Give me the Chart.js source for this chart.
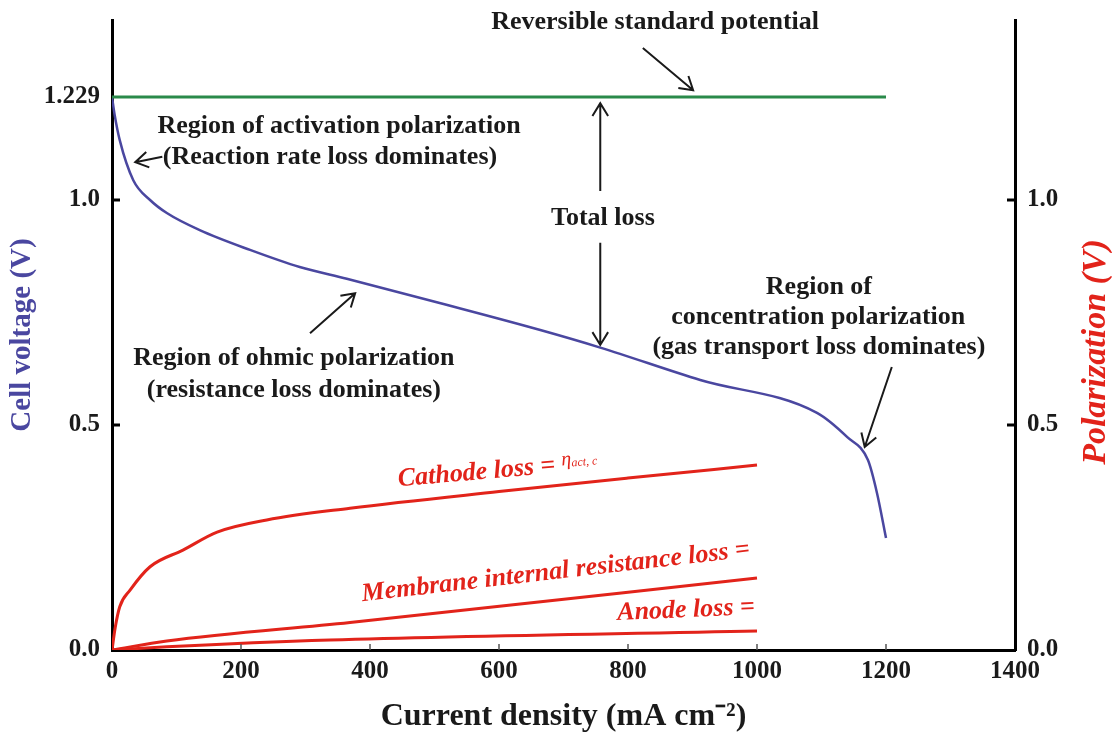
<!DOCTYPE html>
<html><head><meta charset="utf-8">
<script src="https://cdn.jsdelivr.net/npm/chart.js@4/dist/chart.umd.min.js"></script>
<style>html,body{margin:0;padding:0;background:#fff;}</style>
</head><body>
<canvas id="c" width="1112" height="734"></canvas>
<script>
// ---- data ----
const cellCurrent = [0, 4, 12, 33, 59, 85, 136, 214, 291, 364, 508, 664, 757, 912, 1093, 1140, 1172, 1186, 1200];
const cellVoltage = [1.229, 1.19, 1.133, 1.044, 1.0, 0.971, 0.933, 0.889, 0.851, 0.825, 0.771, 0.711, 0.672, 0.60, 0.527, 0.473, 0.422, 0.349, 0.249];
const reversibleCurrent = [0, 1200];
const reversibleVoltage = [1.229, 1.229];
const cathodeCurrent = [0, 5, 12, 28, 59, 110, 163, 240, 369, 600, 800, 1000];
const cathodeLoss = [0, 0.05, 0.096, 0.133, 0.185, 0.222, 0.262, 0.289, 0.315, 0.352, 0.382, 0.411];
const membraneCurrent = [0, 85, 369, 1000];
const membraneLoss = [0, 0.02, 0.061, 0.16];
const anodeCurrent = [0, 85, 338, 1000];
const anodeLoss = [0, 0.007, 0.022, 0.042];
const xTickValues = [0, 200, 400, 600, 800, 1000, 1200, 1400];
const leftTickValues = [0, 0.5, 1.0, 1.229];
const rightTickValues = [0, 0.5, 1.0];

const SERIF = '"Liberation Serif", "Times New Roman", serif';
const BLUE = '#4a47a0';
const RED = '#e2231a';
const GREEN = '#2a8a4a';

function pts(xs, ys) { return xs.map((x, i) => ({x: x, y: ys[i]})); }

// annotation texts (positions in data units)
const blackNotes = [
  {t: 'Reversible standard potential', x: 842, y: 1.396},
  {t: 'Region of activation polarization', x: 352, y: 1.164},
  {t: '(Reaction rate loss dominates)', x: 338, y: 1.096},
  {t: 'Total loss', x: 761, y: 0.96},
  {t: 'Region of ohmic polarization', x: 282, y: 0.649},
  {t: '(resistance loss dominates)', x: 282, y: 0.578},
  {t: 'Region of', x: 1096, y: 0.807},
  {t: 'concentration polarization', x: 1095, y: 0.74},
  {t: '(gas transport loss dominates)', x: 1096, y: 0.673}
];
const arrows = [
  {x1: 823, y1: 1.338, x2: 901, y2: 1.244},
  {x1: 78, y1: 1.096, x2: 36, y2: 1.084},
  {x1: 757, y1: 1.02, x2: 757, y2: 1.215},
  {x1: 757, y1: 0.905, x2: 757, y2: 0.678},
  {x1: 307, y1: 0.704, x2: 377, y2: 0.793},
  {x1: 1209, y1: 0.629, x2: 1167, y2: 0.451}
];
const redNotes = [
  {t: 'Cathode loss = ', sym: 'η', sub: 'act, c', x: 598, y: 0.398, rot: -5},
  {t: 'Membrane internal resistance loss =', x: 688, y: 0.173, rot: -6.6},
  {t: 'Anode loss =', x: 890, y: 0.088, rot: -2.5}
];

const annotatePlugin = {
  id: 'annotate',
  afterDraw(chart) {
    const ctx = chart.ctx;
    const xs = chart.scales.x, ys = chart.scales.y, yr = chart.scales.y2;
    const ca = chart.chartArea;
    ctx.save();
    // inward tick marks
    ctx.strokeStyle = '#000';
    ctx.lineWidth = 3;
    [0.5, 1.0].forEach(v => {
      const py = ys.getPixelForValue(v);
      ctx.beginPath(); ctx.moveTo(ca.left, py); ctx.lineTo(ca.left + 8, py); ctx.stroke();
      const pr = yr.getPixelForValue(v);
      ctx.beginPath(); ctx.moveTo(ca.right - 8, pr); ctx.lineTo(ca.right, pr); ctx.stroke();
    });
    ctx.lineWidth = 1.5;
    ctx.strokeStyle = '#555';
    xTickValues.slice(1, -1).forEach(v => {
      const px = xs.getPixelForValue(v);
      ctx.beginPath(); ctx.moveTo(px, ca.bottom); ctx.lineTo(px, ca.bottom - 6); ctx.stroke();
    });
    // black notes
    ctx.fillStyle = '#1a1a1a';
    ctx.font = 'bold 26px ' + SERIF;
    ctx.textAlign = 'center';
    ctx.textBaseline = 'middle';
    blackNotes.forEach(n => ctx.fillText(n.t, xs.getPixelForValue(n.x), ys.getPixelForValue(n.y)));
    // arrows
    ctx.strokeStyle = '#1a1a1a';
    ctx.lineWidth = 2;
    arrows.forEach(a => {
      const x1 = xs.getPixelForValue(a.x1), y1 = ys.getPixelForValue(a.y1);
      const x2 = xs.getPixelForValue(a.x2), y2 = ys.getPixelForValue(a.y2);
      const ang = Math.atan2(y2 - y1, x2 - x1);
      const h = 15, w = 0.55;
      ctx.beginPath();
      ctx.moveTo(x1, y1); ctx.lineTo(x2, y2);
      ctx.moveTo(x2 - h * Math.cos(ang - w), y2 - h * Math.sin(ang - w));
      ctx.lineTo(x2, y2);
      ctx.lineTo(x2 - h * Math.cos(ang + w), y2 - h * Math.sin(ang + w));
      ctx.stroke();
    });
    // red notes
    ctx.fillStyle = RED;
    redNotes.forEach(n => {
      ctx.save();
      ctx.translate(xs.getPixelForValue(n.x), yr.getPixelForValue(n.y));
      ctx.rotate(n.rot * Math.PI / 180);
      ctx.font = 'italic bold 26px ' + SERIF;
      ctx.textAlign = 'left';
      ctx.textBaseline = 'middle';
      let w = ctx.measureText(n.t).width;
      let ws = 0, wsub = 0;
      if (n.sym) {
        ctx.font = 'italic 20px ' + SERIF; ws = ctx.measureText(n.sym).width;
        ctx.font = 'italic 12px ' + SERIF; wsub = ctx.measureText(n.sub).width;
      }
      let x0 = -(w + ws + wsub) / 2;
      ctx.font = 'italic bold 26px ' + SERIF;
      ctx.fillText(n.t, x0, 0);
      if (n.sym) {
        ctx.font = 'italic 20px ' + SERIF;
        ctx.fillText(n.sym, x0 + w, -5);
        ctx.font = 'italic 12px ' + SERIF;
        ctx.fillText(n.sub, x0 + w + ws, -1);
      }
      ctx.restore();
    });
    // right axis title
    ctx.save();
    ctx.translate(1096, 352);
    ctx.rotate(-Math.PI / 2);
    ctx.fillStyle = RED;
    ctx.font = 'italic bold 34px ' + SERIF;
    ctx.textAlign = 'center';
    ctx.textBaseline = 'middle';
    ctx.fillText('Polarization (V)', 0, 0);
    ctx.restore();
    ctx.restore();
  }
};

const tickFont = {family: SERIF, size: 25, weight: 'bold'};
function noVPad(s) { s.paddingTop = 0; s.paddingBottom = 0; }

new Chart(document.getElementById('c'), {
  type: 'line',
  data: {
    datasets: [
      {label: 'Reversible standard potential', data: pts(reversibleCurrent, reversibleVoltage), borderColor: GREEN, borderWidth: 3, yAxisID: 'y'},
      {label: 'Cell voltage', data: pts(cellCurrent, cellVoltage), borderColor: BLUE, borderWidth: 2.5, yAxisID: 'y', cubicInterpolationMode: 'monotone'},
      {label: 'Cathode loss', data: pts(cathodeCurrent, cathodeLoss), borderColor: RED, borderWidth: 3, yAxisID: 'y2', cubicInterpolationMode: 'monotone'},
      {label: 'Membrane internal resistance loss', data: pts(membraneCurrent, membraneLoss), borderColor: RED, borderWidth: 3, yAxisID: 'y2', cubicInterpolationMode: 'monotone'},
      {label: 'Anode loss', data: pts(anodeCurrent, anodeLoss), borderColor: RED, borderWidth: 3, yAxisID: 'y2', cubicInterpolationMode: 'monotone'}
    ]
  },
  options: {
    responsive: false,
    animation: false,
    devicePixelRatio: 1,
    layout: {padding: {top: 20, left: 0, right: 0, bottom: 0}},
    elements: {point: {radius: 0}, line: {fill: false}},
    plugins: {legend: {display: false}, tooltip: {enabled: false}},
    scales: {
      x: {
        type: 'linear', position: 'bottom', min: 0, max: 1400,
        afterBuildTicks: s => { s.ticks = xTickValues.map(v => ({value: v})); },
        afterFit: s => { s.height = 84; },
        grid: {display: false, drawTicks: false},
        border: {display: true, color: '#000', width: 3},
        ticks: {font: tickFont, color: '#1a1a1a', padding: 7, maxRotation: 0, autoSkip: false, callback: v => String(v)},
        title: {display: true, text: 'Current density (mA cm⁻²)', color: '#1a1a1a', font: {family: SERIF, size: 32, weight: 'bold'}, padding: {top: 0, bottom: -2}}
      },
      y: {
        type: 'linear', position: 'left', min: 0, max: 1.4,
        afterBuildTicks: s => { s.ticks = leftTickValues.map(v => ({value: v})); },
        afterFit: s => { s.width = 112; noVPad(s); },
        grid: {display: false, drawTicks: false},
        border: {display: true, color: '#000', width: 3},
        ticks: {font: tickFont, color: '#1a1a1a', padding: 12, autoSkip: false, callback: v => (v === 1.229 ? '1.229' : v.toFixed(1))},
        title: {display: true, text: 'Cell voltage (V)', color: BLUE, font: {family: SERIF, size: 29, weight: 'bold'}, padding: {top: 5, bottom: 0}}
      },
      y2: {
        type: 'linear', position: 'right', min: 0, max: 1.4,
        afterBuildTicks: s => { s.ticks = rightTickValues.map(v => ({value: v})); },
        afterFit: s => { s.width = 97; noVPad(s); },
        grid: {display: false, drawTicks: false},
        border: {display: true, color: '#000', width: 3},
        ticks: {font: tickFont, color: '#1a1a1a', padding: 12, autoSkip: false, callback: v => v.toFixed(1)}
      }
    }
  },
  plugins: [annotatePlugin]
});
</script>
</body></html>
